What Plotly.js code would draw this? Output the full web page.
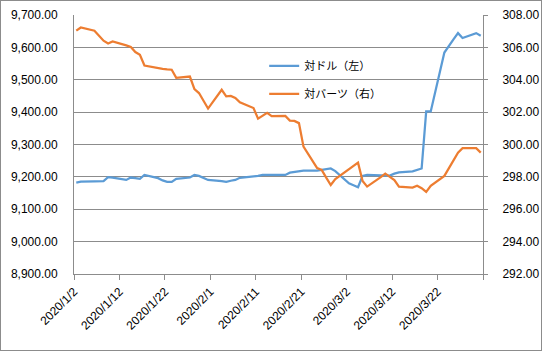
<!DOCTYPE html>
<html>
<head>
<meta charset="utf-8">
<script src="https://cdn.plot.ly/plotly-3.0.1.min.js"></script>
<style>
html,body{margin:0;padding:0;background:#fff;}
#chart{width:540px;height:349px;border:1px solid #8c8c8c;}
</style>
</head>
<body>
<div id="chart"></div>
<script>
// Business dates (Jan 2 – Mar 31, 2020)
const dates = [
  "2020-01-02","2020-01-03",
  "2020-01-06","2020-01-07","2020-01-08","2020-01-09","2020-01-10",
  "2020-01-13","2020-01-14","2020-01-15","2020-01-16","2020-01-17",
  "2020-01-20","2020-01-21","2020-01-22","2020-01-23","2020-01-24",
  "2020-01-27","2020-01-28","2020-01-29","2020-01-30","2020-01-31",
  "2020-02-03","2020-02-04","2020-02-05","2020-02-06","2020-02-07",
  "2020-02-10","2020-02-11","2020-02-12","2020-02-13","2020-02-14",
  "2020-02-17","2020-02-18","2020-02-19","2020-02-20","2020-02-21",
  "2020-02-24","2020-02-25","2020-02-26","2020-02-27","2020-02-28",
  "2020-03-02","2020-03-03","2020-03-04","2020-03-05","2020-03-06",
  "2020-03-09","2020-03-10","2020-03-11","2020-03-12","2020-03-13",
  "2020-03-16","2020-03-17","2020-03-18","2020-03-19","2020-03-20",
  "2020-03-23","2020-03-24","2020-03-25","2020-03-26","2020-03-27",
  "2020-03-30","2020-03-31"
];

// 対ドル (left axis)
const usdValues = [
  9182, 9185,
  9186, 9186, 9187, 9199, 9198,
  9190.6, 9198, 9196, 9194, 9206,
  9196, 9189, 9184.4, 9184.4, 9194,
  9198, 9206, 9203, 9196, 9190.6,
  9187, 9184.4, 9188, 9190.6, 9197,
  9201, 9203, 9206, 9206, 9206,
  9206, 9213, 9215, 9217, 9219,
  9219, 9221, 9224, 9226, 9218,
  9180, 9174, 9168, 9203, 9206,
  9205, 9204, 9204, 9210, 9214,
  9217, 9222, 9226, 9402, 9402,
  9584, 9606, 9625, 9644, 9629,
  9644, 9636
];

// 対バーツ (right axis)
const thbValues = [
  307.03, 307.23,
  307.03, 306.7, 306.41, 306.24, 306.37,
  306.12, 306.02, 305.71, 305.54, 304.88,
  304.70, 304.67, 304.64, 304.62, 304.12,
  304.20, 303.42, 303.18, 302.70, 302.22,
  303.38, 302.97, 303.00, 302.87, 302.60,
  302.25, 301.60, 301.80, 301.96, 301.75,
  301.77, 301.48, 301.46, 301.32, 299.87,
  298.54, 298.43, 297.95, 297.50, 297.86,
  298.47, 298.67, 298.88, 297.75, 297.40,
  297.98, 298.20, 298.00, 297.80, 297.40,
  297.34, 297.45, 297.30, 297.07, 297.45,
  298.06, 298.54, 299.10, 299.50, 299.77,
  299.77, 299.50
];

const tickDates = ["2020-01-02","2020-01-12","2020-01-22","2020-02-01","2020-02-11","2020-02-21","2020-03-02","2020-03-12","2020-03-22","2020-04-01"];
const tickLabels = ["2020/1/2","2020/1/12","2020/1/22","2020/2/1","2020/2/11","2020/2/21","2020/3/2","2020/3/12","2020/3/22",""];
const seriesNames = ["対ドル（左）","対バーツ（右）"];

// Excel date axis places each daily point in the middle of its day slot
const mid = d => d + " 12:00";
const xs = dates.map(mid);

const gridCol = "#8c8c8c";
const fontFam = "'Liberation Sans', Arial, sans-serif";

const traces = [
  {x: xs, y: usdValues, type: "scatter", mode: "lines", name: seriesNames[0],
   line: {color: "#5B9BD5", width: 2.25}, yaxis: "y", legendgroup: "a"},
  {x: xs, y: thbValues, type: "scatter", mode: "lines", name: seriesNames[1],
   line: {color: "#ED7D31", width: 2.25}, yaxis: "y2", legendgroup: "b"}
];

const layout = {
  width: 540, height: 349,
  margin: {l: 73, r: 58, t: 14, b: 76},
  paper_bgcolor: "#fff", plot_bgcolor: "#fff",
  font: {family: fontFam, size: 12, color: "#000"},
  showlegend: true,
  legend: {x: 0.465, y: 0.86, xanchor: "left", yanchor: "top",
           bgcolor: "rgba(0,0,0,0)", tracegroupgap: 9,
           font: {family: "'Noto Sans CJK JP', sans-serif", size: 11, color: "#000"}},
  xaxis: {type: "date", range: ["2020-01-02", "2020-04-01"],
          tickmode: "array", tickvals: tickDates, ticktext: tickLabels,
          tickangle: -45, ticks: "outside", ticklen: 5, tickcolor: gridCol,
          showline: true, linecolor: gridCol, linewidth: 1, showgrid: false,
          zeroline: false, tickfont: {size: 12}},
  yaxis: {range: [8900, 9700], dtick: 100, tick0: 8900, tickformat: ",.2f",
          showgrid: true, gridcolor: gridCol, gridwidth: 1,
          showline: true, linecolor: gridCol, zeroline: false,
          ticks: "", ticklabelstandoff: 13, tickfont: {size: 12}},
  yaxis2: {range: [292, 308], dtick: 2, tick0: 292, tickformat: ".2f",
           overlaying: "y", side: "right", showgrid: false,
           showline: true, linecolor: gridCol, zeroline: false,
           ticks: "outside", ticklen: 4, tickcolor: gridCol,
           ticklabelstandoff: 12, tickfont: {size: 12}}
};

Plotly.newPlot("chart", traces, layout, {displayModeBar: false, staticPlot: true});
</script>
</body>
</html>
